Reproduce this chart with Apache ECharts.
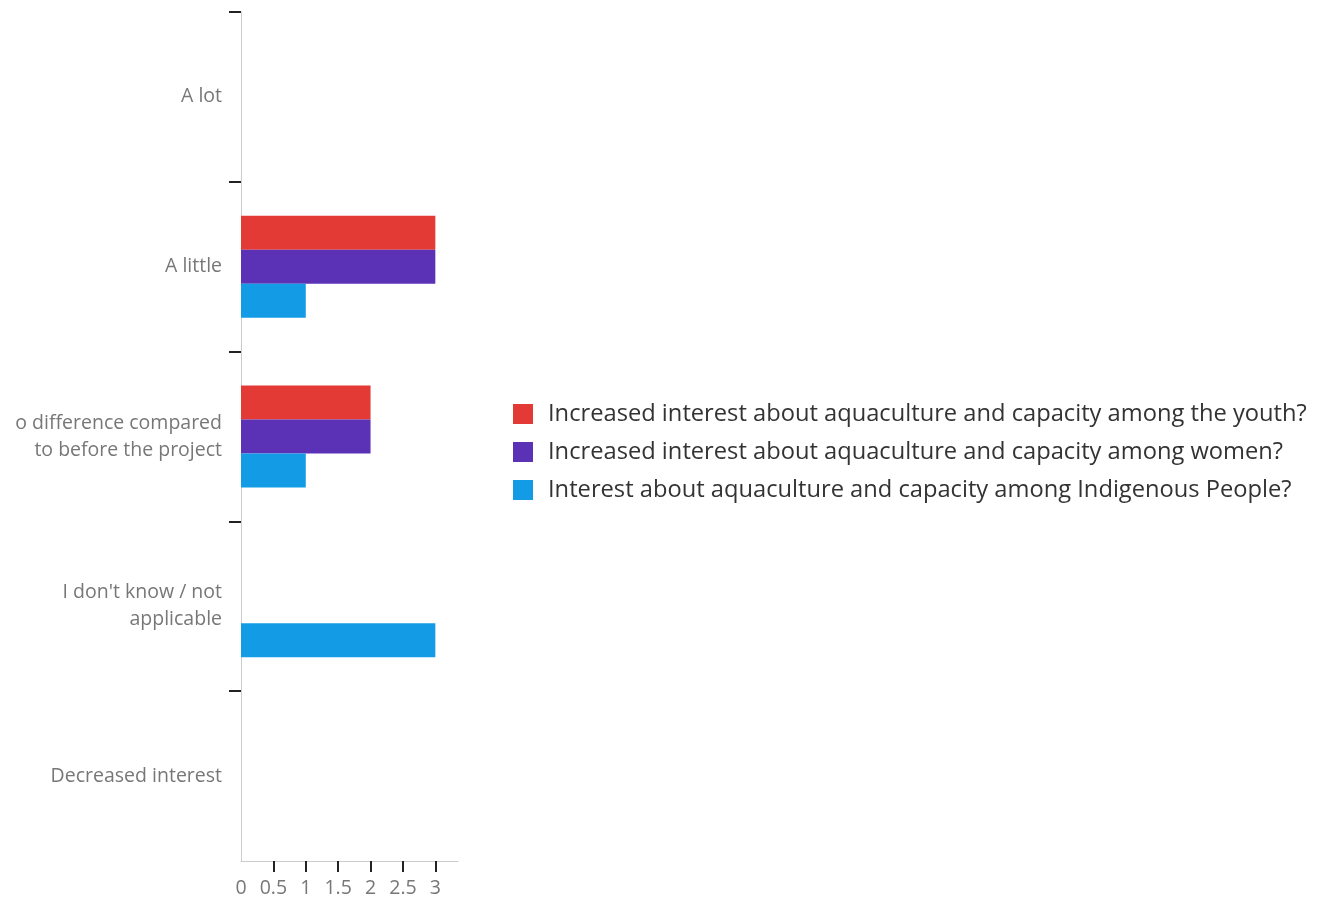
<!DOCTYPE html>
<html>
<head>
<meta charset="utf-8">
<script src="https://cdn.jsdelivr.net/npm/echarts@6/dist/echarts.min.js"></script>
<style>
html,body{margin:0;padding:0;background:#fff;}
#chart{width:1325px;height:902px;}
</style>
</head>
<body>
<div id="chart"></div>
<script>
const categories = [
  "A lot",
  "A little",
  "o difference compared\nto before the project",
  "I don't know / not\napplicable",
  "Decreased interest"
];
const seriesNames = [
  "Increased interest about aquaculture and capacity among the youth?",
  "Increased interest about aquaculture and capacity among women?",
  "Interest about aquaculture and capacity among Indigenous People?"
];
const youthValues = [0, 3, 2, 0, 0];
const womenValues = [0, 3, 2, 0, 0];
const indigenousValues = [0, 1, 1, 3, 0];
const xTickLabels = [0, 0.5, 1, 1.5, 2, 2.5, 3];
const xTickMarks = [0.5, 1, 1.5, 2, 2.5, 3];
const yBoundaryTicks = [0, 1, 2, 3, 4];
const colors = ["#E43A36", "#5B32B5", "#139CE5"];

const chart = echarts.init(document.getElementById('chart'), null, {renderer: 'canvas'});
const font = "'Open Sans', sans-serif";
chart.setOption({
  animation: false,
  color: colors,
  grid: {left: 241, top: 12, width: 217, bottom: 41, containLabel: false},
  legend: {
    orient: 'vertical',
    left: 508,
    top: 397,
    itemWidth: 20,
    itemHeight: 20,
    itemGap: 14,
    icon: 'rect',
    textStyle: {fontFamily: font, fontSize: 23.7, color: '#333', padding: [0, 0, 0, 10]},
    data: seriesNames
  },
  xAxis: {
    type: 'value',
    position: 'bottom',
    min: 0,
    max: 3.35,
    interval: 0.5,
    splitLine: {show: false},
    axisLine: {show: true, onZero: false, lineStyle: {color: '#ccc', width: 1}},
    axisTick: {show: true, customValues: xTickMarks, length: 11, lineStyle: {color: '#222', width: 2}},
    axisLabel: {customValues: xTickLabels, fontFamily: font, fontSize: 19.5, color: '#777', margin: 17}
  },
  yAxis: [
    {
      type: 'category',
      inverse: true,
      data: categories,
      axisLine: {show: true, onZero: false, lineStyle: {color: '#ccc', width: 1}},
      axisTick: {show: false},
      axisLabel: {fontFamily: font, fontSize: 19.5, color: '#777', margin: 19, lineHeight: 27, align: 'right'}
    },
    {
      type: 'value',
      position: 'left',
      inverse: true,
      min: 0,
      max: categories.length,
      interval: 1,
      splitLine: {show: false},
      axisLine: {show: false, onZero: false},
      axisLabel: {show: false},
      axisTick: {show: true, customValues: yBoundaryTicks, length: 12, lineStyle: {color: '#222', width: 2}}
    }
  ],
  series: [
    {name: seriesNames[0], type: 'bar', data: youthValues, barGap: '0%', barCategoryGap: '40%'},
    {name: seriesNames[1], type: 'bar', data: womenValues, barGap: '0%', barCategoryGap: '40%'},
    {name: seriesNames[2], type: 'bar', data: indigenousValues, barGap: '0%', barCategoryGap: '40%'}
  ]
});
</script>
</body>
</html>
